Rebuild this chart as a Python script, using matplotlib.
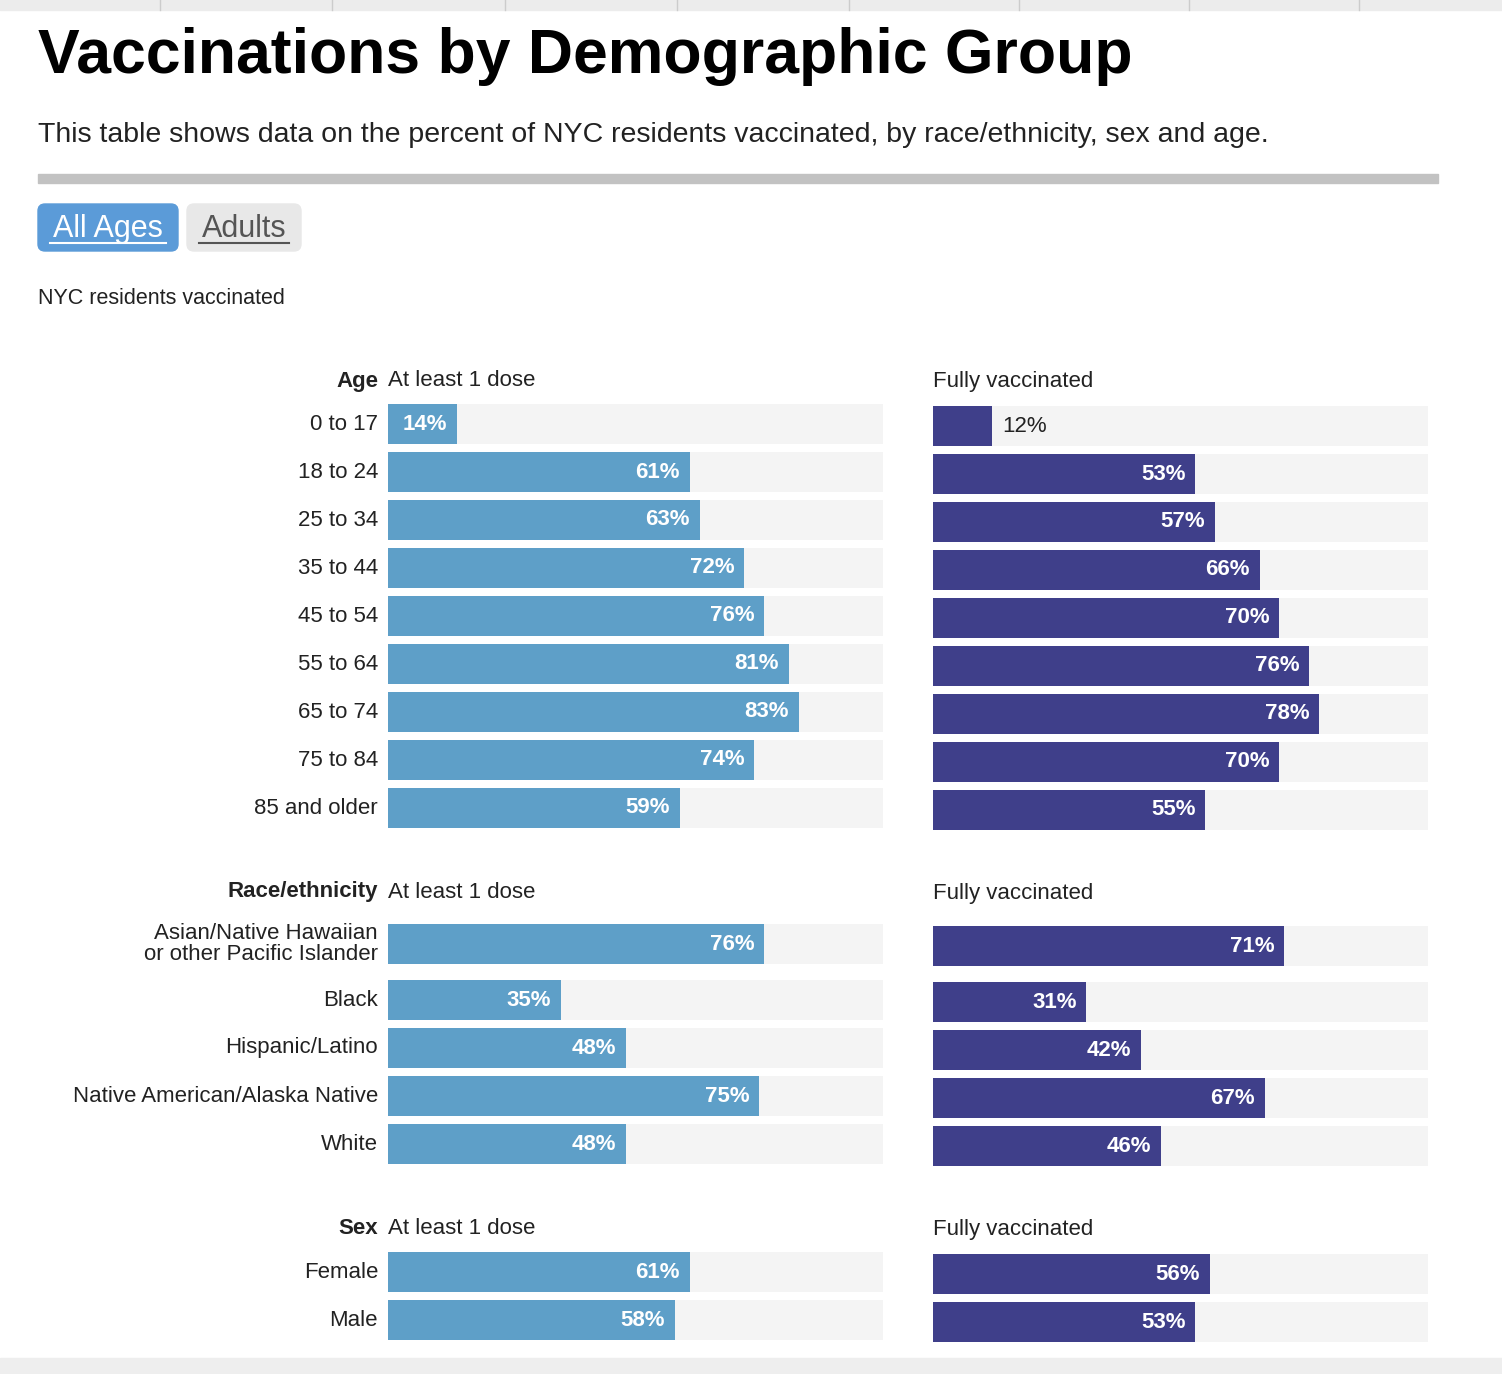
import matplotlib.pyplot as plt
from matplotlib.patches import FancyBboxPatch, Rectangle

plt.rcParams['font.family'] = ['Liberation Sans', 'DejaVu Sans']

W, H = 1502, 1374

# data
age_labels = ['0 to 17', '18 to 24', '25 to 34', '35 to 44', '45 to 54',
              '55 to 64', '65 to 74', '75 to 84', '85 and older']
age_dose1 = [14, 61, 63, 72, 76, 81, 83, 74, 59]
age_full = [12, 53, 57, 66, 70, 76, 78, 70, 55]

race_labels = ['Asian/Native Hawaiian\nor other Pacific Islander', 'Black',
               'Hispanic/Latino', 'Native American/Alaska Native', 'White']
race_dose1 = [76, 35, 48, 75, 48]
race_full = [71, 31, 42, 67, 46]

sex_labels = ['Female', 'Male']
sex_dose1 = [61, 58]
sex_full = [56, 53]

groups = [
    ('Age', age_labels, age_dose1, age_full, 381, [424, 472, 520, 568, 616, 664, 712, 760, 808]),
    ('Race/ethnicity', race_labels, race_dose1, race_full, 892, [944, 1000, 1048, 1096, 1144]),
    ('Sex', sex_labels, sex_dose1, sex_full, 1228, [1272, 1320]),
]

LIGHT = '#5e9fc8'
DARK = '#3f3f8a'
TRACK = '#f4f4f4'

fig = plt.figure(figsize=(W / 100, H / 100), dpi=100)
bg = fig.add_axes([0, 0, 1, 1])
bg.set_xlim(0, W)
bg.set_ylim(H, 0)
bg.axis('off')

# top tab strip and bottom fade
bg.add_patch(Rectangle((0, 0), W, 10, color='#ececec'))
for x in [160, 332, 505, 677, 849, 1019, 1189, 1359]:
    bg.plot([x, x], [0, 10], color='#cccccc', lw=1)
bg.add_patch(Rectangle((0, 1358), W, 16, color='#eeeeee'))

bg.text(38, 57, 'Vaccinations by Demographic Group', fontsize=45, fontweight='bold',
        va='center', ha='left')
bg.text(38, 135, 'This table shows data on the percent of NYC residents vaccinated, by race/ethnicity, sex and age.',
        fontsize=20.5, va='center', ha='left', color='#222222')
bg.add_patch(Rectangle((38, 174), 1400, 9, color='#c2c2c2'))

# buttons
bg.add_patch(FancyBboxPatch((38, 204), 140, 47, boxstyle='round,pad=0,rounding_size=7',
                            color='#5b9bd8'))
bg.add_patch(FancyBboxPatch((187, 204), 114, 47, boxstyle='round,pad=0,rounding_size=7',
                            color='#e8e8e8'))
bg.text(108, 229, 'All Ages', fontsize=22, color='white', ha='center', va='center')
bg.plot([50, 166], [243, 243], color='white', lw=1.5)
bg.text(244, 229, 'Adults', fontsize=22, color='#555555', ha='center', va='center')
bg.plot([199, 289], [243, 243], color='#555555', lw=1.5)

bg.text(38, 298, 'NYC residents vaccinated', fontsize=15.5, va='center', ha='left', color='#222222')

for name, labels, d1, full, hy, ys in groups:
    bg.text(378, hy, name, fontsize=16, fontweight='bold', ha='right', va='center', color='#222222')
    bg.text(388, hy, 'At least 1 dose', fontsize=16, ha='left', va='center', color='#222222')
    bg.text(933, hy + 1, 'Fully vaccinated', fontsize=16, ha='left', va='center', color='#222222')
    for lab, y in zip(labels, ys):
        bg.text(378, y, lab, fontsize=16, ha='right', va='center', color='#222222',
                linespacing=1.05)
    top = ys[0] - 22
    bottom = ys[-1] + 22
    for x0, vals, col, dy in [(388, d1, LIGHT, 0), (933, full, DARK, 2)]:
        ax = fig.add_axes([x0 / W, 1 - (bottom + dy) / H, 495 / W, (bottom - top) / H])
        ax.set_xlim(0, 100)
        ax.set_ylim(bottom, top)
        ax.axis('off')
        ax.barh(ys, [100] * len(ys), height=40, color=TRACK)
        ax.barh(ys, vals, height=40, color=col)
        for v, y in zip(vals, ys):
            if v >= 13:
                ax.text(v - 2, y, f'{v}%', color='white', fontweight='bold',
                        fontsize=16, ha='right', va='center')
            else:
                ax.text(v + 2, y, f'{v}%', color='#222222', fontsize=16,
                        ha='left', va='center')

fig.savefig('out.png', dpi=100)
